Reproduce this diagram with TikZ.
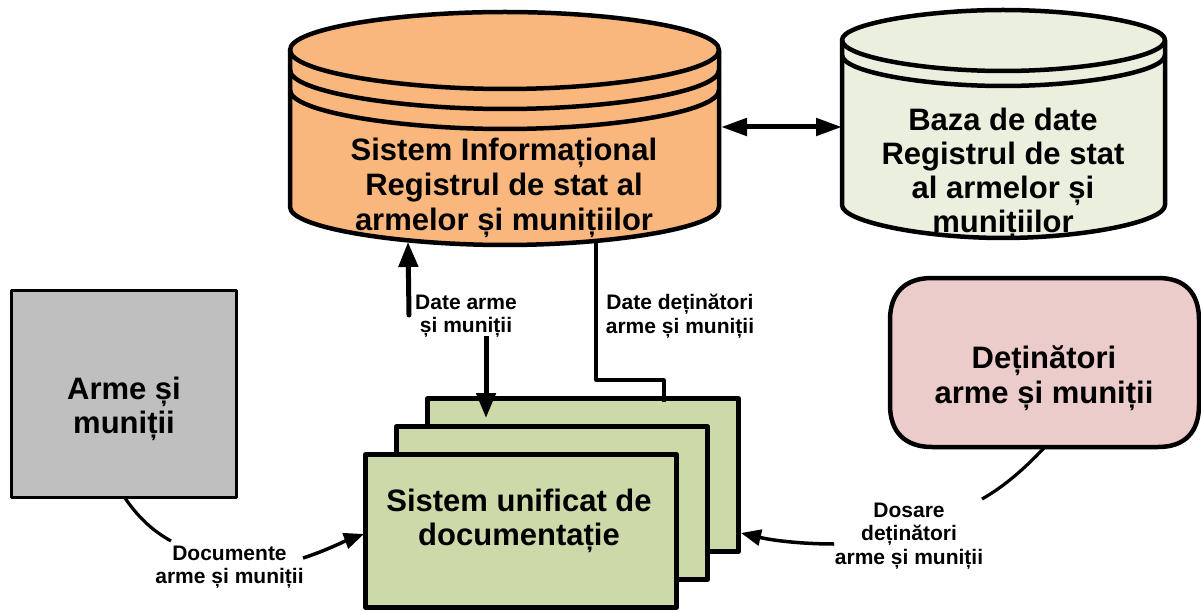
\documentclass[tikz,border=0pt]{standalone}
\usepackage{fontspec}
\setmainfont{Liberation Sans}
\usetikzlibrary{arrows.meta}
\definecolor{orangefill}{HTML}{F9B77E}
\definecolor{palegreen}{HTML}{EBF0DE}
\definecolor{docgreen}{HTML}{CBDAA8}
\definecolor{greybox}{HTML}{BFBFBF}
\definecolor{pinkbox}{HTML}{ECCCCA}
\tikzset{
  x=1pt,y=-1pt,
  outline/.style={draw=black,line width=4.5pt,line join=round},
  big/.style={font=\fontsize{31}{35}\selectfont\bfseries,align=center,inner sep=0pt},
  bigtight/.style={font=\fontsize{31}{34}\selectfont\bfseries,align=center,inner sep=0pt},
  small/.style={font=\fontsize{21}{23.5}\selectfont\bfseries,align=center,inner sep=0pt},
  thickline/.style={draw=black,line width=5pt},
  midline/.style={draw=black,line width=3.2pt},
  tipa/.style={-{Triangle[length=25pt,width=19pt]}},
  tipb/.style={-{Triangle[length=20pt,width=16pt]}},
}
\begin{document}
\begin{tikzpicture}
\useasboundingbox (0,0) rectangle (1201,612);
% main cylinder
\draw[outline,fill=orangefill] (290,50) -- (290,207) .. controls (290,228) and (400,245) .. (505,245) .. controls (610,245) and (719,228) .. (719,207) -- (719,50) .. controls (719,28) and (610,12) .. (505,12) .. controls (400,12) and (290,28) .. (290,50) -- cycle;
\draw[outline] (290,50) .. controls (290,72) and (400,89) .. (505,89) .. controls (610,89) and (719,72) .. (719,50);
\draw[outline] (290,70) .. controls (290,92) and (400,109) .. (505,109) .. controls (610,109) and (719,92) .. (719,70);
\draw[outline] (290,90) .. controls (290,112) and (400,129) .. (505,129) .. controls (610,129) and (719,112) .. (719,90);
\node[big] (sis) at (504,188) {Sistem Informațional\\Registrul de stat al\\armelor și munițiilor};
\coordinate (sisR) at (721,127);
\coordinate (sisA) at (408,242);
\coordinate (sisB) at (596,243);
% db cylinder
\draw[outline,fill=palegreen] (842,40) -- (842,205) .. controls (842,222) and (925,238) .. (1003,238) .. controls (1082,238) and (1165,222) .. (1165,205) -- (1165,40) .. controls (1165,24) and (1082,10) .. (1003,10) .. controls (925,10) and (842,24) .. (842,40) -- cycle;
\draw[outline] (842,40) .. controls (842,57) and (925,71) .. (1003,71) .. controls (1082,71) and (1165,57) .. (1165,40);
\draw[outline] (842,55) .. controls (842,72) and (925,86) .. (1003,86) .. controls (1082,86) and (1165,72) .. (1165,55);
\node[bigtight] (db) at (1003,173.5) {Baza de date\\Registrul de stat\\al armelor și\\munițiilor};
\coordinate (dbL) at (842,127);
\draw[thickline,{Triangle[length=26pt,width=17pt]}-{Triangle[length=26pt,width=17pt]}] (sisR) -- (dbL);
% arme box
\node[outline,fill=greybox,minimum width=225pt,minimum height=207pt,inner sep=0pt,line width=3.5pt] (arme) at (124,394) {};
\node[bigtight] at (124,408.5) {Arme și\\muniții};
% holders
\draw[outline,fill=pinkbox] (932,278) -- (1158,278) .. controls (1185,278) and (1199,293) .. (1199,320) -- (1199,405) .. controls (1199,432) and (1185,447) .. (1158,447) -- (932,447) .. controls (905,447) and (890,432) .. (890,405) -- (890,320) .. controls (890,293) and (905,278) .. (932,278) -- cycle;
\node[big] (det) at (1044,378) {Deținători\\arme și muniții};
% doc stack
\node[outline,fill=docgreen,minimum width=311pt,minimum height=153pt,inner sep=0pt] (d3) at (583,475) {};
\node[outline,fill=docgreen,minimum width=311pt,minimum height=153pt,inner sep=0pt] (d2) at (552,503) {};
\node[outline,fill=docgreen,minimum width=311pt,minimum height=153pt,inner sep=0pt] (d1) at (521,531) {};
\node[bigtight] at (519,521) {Sistem unificat de\\documentație};
% labels
\node[small] (l1) at (466,316) {Date arme\\și muniții};
\node[small] (l2) at (680,316) {Date deținători\\arme și muniții};
\node[small] (l3) at (229.5,567) {Documente\\arme și muniții};
\node[small] (l4) at (909,536) {Dosare\\deținători\\arme și muniții};
% connectors
\coordinate (a1) at (409,315);
\coordinate (a2) at (486,336);
\coordinate (a3) at (486,418);
\draw[thickline,tipa,line cap=round] (a1) -- (sisA);
\draw[thickline,tipa] (a2) -- (a3);
\coordinate (b1) at (596,380);
\coordinate (b2) at (664,380);
\coordinate (b3) at (664,402);
\draw[midline,line join=round] (sisB) -- (b1) -- (b2) -- (b3);
\coordinate (c1) at (125,498);
\coordinate (c2) at (171,541);
\draw[midline] (c1) .. controls (140,520) and (155,532) .. (c2);
\coordinate (c3) at (303,558);
\coordinate (c4) at (364,534);
\draw[draw=black,line width=3.5pt,tipb] (c3) .. controls (325,551) and (345,541) .. (c4);
\coordinate (e1) at (1044,448);
\coordinate (e2) at (982,499);
\draw[midline] (e1) .. controls (1025,468) and (1005,486) .. (e2);
\coordinate (e3) at (834,544);
\coordinate (e4) at (741,533);
\draw[draw=black,line width=3.5pt,tipb] (e3) .. controls (805,544) and (775,541) .. (e4);
\end{tikzpicture}
\end{document}
